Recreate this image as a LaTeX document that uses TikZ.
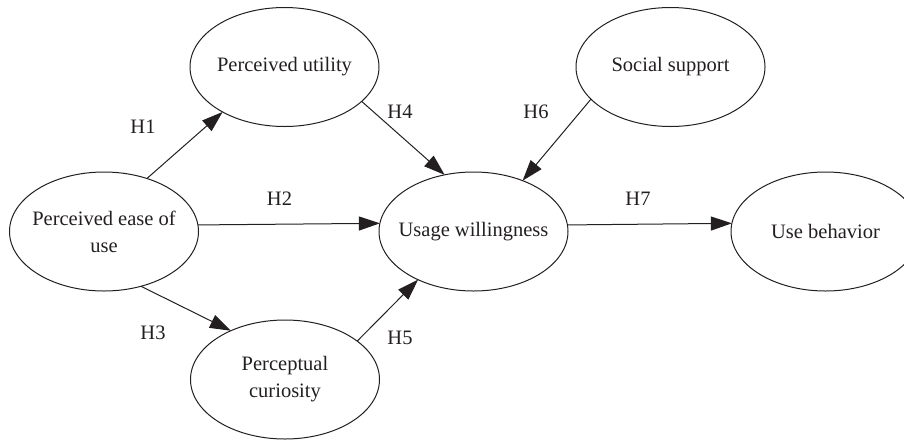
\documentclass[tikz,border=0pt]{standalone}
\usepackage{fontspec}
\setmainfont{Liberation Serif}
\usetikzlibrary{shapes.geometric,arrows.meta}
\definecolor{ink}{RGB}{35,31,32}
\begin{document}
\begin{tikzpicture}[x=1pt,y=-1pt,
  latent/.style={ellipse,draw=ink,line width=1pt,minimum width=189pt,minimum height=119pt,inner xsep=-30pt,inner ysep=0pt,outer sep=0pt,align=center,text=ink,font=\fontsize{20.5}{27}\selectfont},
  hlabel/.style={text=ink,inner sep=0pt,font=\fontsize{20.5}{24}\selectfont},
  path/.style={draw=ink,line width=1pt,-{Triangle[length=21pt,width=14pt]}}]
\useasboundingbox (0,0) rectangle (904,440);
\node[latent] (util) at (284.5,67) {Perceived utility};
\node[latent] (soc) at (670.5,67) {Social support};
\node[latent] (ease) at (104,231.5) {Perceived ease of\\use};
\node[latent] (will) at (473.5,231.5) {Usage willingness};
\node[latent] (beh) at (825.5,231.5) {Use behavior};
\node[latent] (cur) at (285,379.5) {Perceptual\\curiosity};
\draw[path] (ease.51.7) -- (util.216.4);
\draw[path] (ease.4.6) -- (will.175.4);
\draw[path] (ease.-56.6) -- (cur.138.6);
\draw[path] (util.-24) -- (will.117.5);
\draw[path] (cur.28.1) -- (will.221.2);
\draw[path] (soc.202.3) -- (will.46);
\draw[path] (will.4.6) -- (beh.175.4);
\node[hlabel] (h1) at (143,127) {H1};
\node[hlabel] (h2) at (279.5,199) {H2};
\node[hlabel] (h3) at (153,333) {H3};
\node[hlabel] (h4) at (400,112) {H4};
\node[hlabel] (h5) at (400,338) {H5};
\node[hlabel] (h6) at (536,112) {H6};
\node[hlabel] (h7) at (638,199) {H7};
\end{tikzpicture}
\end{document}
